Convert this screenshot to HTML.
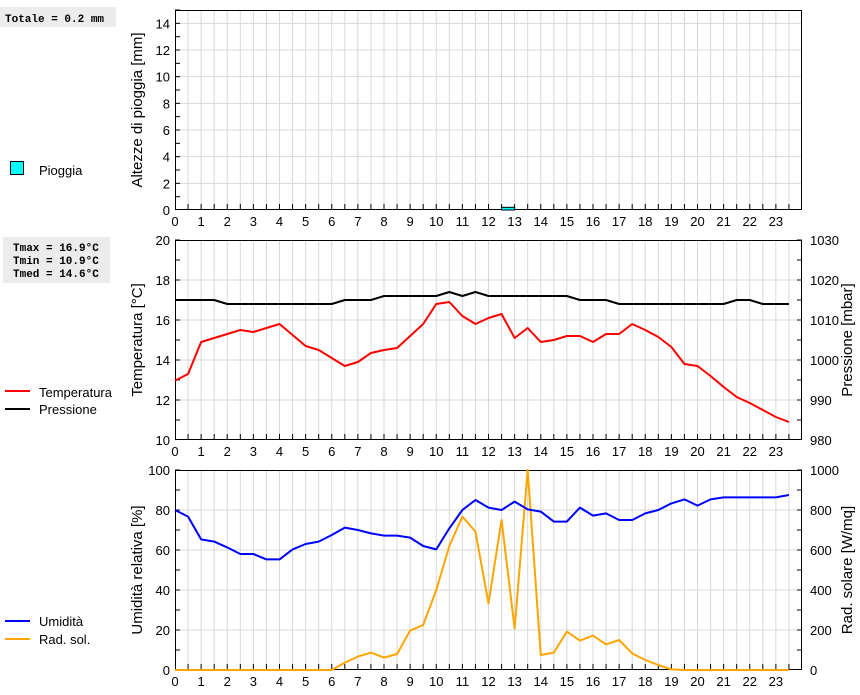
<!DOCTYPE html>
<html><head><meta charset="utf-8"><style>
body{margin:0;background:#fff;width:860px;height:690px;overflow:hidden;font-family:"Liberation Sans",sans-serif}
svg text{font-family:"Liberation Sans",sans-serif;font-size:13px;fill:#000}
.mono{font-family:"Liberation Mono",monospace;font-size:11px;font-weight:bold}
</style></head><body>
<svg id="chart" width="860" height="690" xmlns="http://www.w3.org/2000/svg">
<rect x="0" y="7" width="116" height="20" fill="#ececec"/>
<text class="mono" x="5" y="22">Totale = 0.2 mm</text>
<rect x="3" y="237" width="107" height="46" fill="#ececec"/>
<text class="mono" x="13" y="251">Tmax = 16.9°C</text>
<text class="mono" x="13" y="264">Tmin = 10.9°C</text>
<text class="mono" x="13" y="277">Tmed = 14.6°C</text>
<g><rect x="10.5" y="161.5" width="13" height="13" fill="#00ffff" stroke="#000"/><text x="39" y="175">Pioggia</text></g>
<g><line x1="5" y1="391" x2="30" y2="391" stroke="#f00" stroke-width="2"/><text x="39" y="397">Temperatura</text></g>
<g><line x1="5" y1="409" x2="30" y2="409" stroke="#000" stroke-width="2"/><text x="39" y="414">Pressione</text></g>
<g><line x1="5" y1="621" x2="30" y2="621" stroke="#00f" stroke-width="2"/><text x="39" y="626">Umidità</text></g>
<g><line x1="5" y1="639" x2="30" y2="639" stroke="#ffa500" stroke-width="2"/><text x="39" y="644">Rad. sol.</text></g>
</svg>
<script>
const hours=[0,0.5,1,1.5,2,2.5,3,3.5,4,4.5,5,5.5,6,6.5,7,7.5,8,8.5,9,9.5,10,10.5,11,11.5,12,12.5,13,13.5,14,14.5,15,15.5,16,16.5,17,17.5,18,18.5,19,19.5,20,20.5,21,21.5,22,22.5,23,23.5];
const temperature=[12.97,13.3,14.9,15.1,15.3,15.5,15.4,15.6,15.8,15.25,14.7,14.5,14.1,13.7,13.9,14.35,14.5,14.6,15.2,15.8,16.8,16.9,16.2,15.8,16.1,16.3,15.1,15.6,14.9,15.0,15.2,15.2,14.9,15.3,15.3,15.8,15.5,15.15,14.65,13.8,13.7,13.2,12.65,12.15,11.85,11.5,11.15,10.9];
const pressure=[1015,1015,1015,1015,1014,1014,1014,1014,1014,1014,1014,1014,1014,1015,1015,1015,1016,1016,1016,1016,1016,1017,1016,1017,1016,1016,1016,1016,1016,1016,1016,1015,1015,1015,1014,1014,1014,1014,1014,1014,1014,1014,1014,1015,1015,1014,1014,1014];
const humidity=[80,76.7,65.3,64.2,61.3,58,58,55.3,55.3,60.3,63,64.2,67.5,71.2,70,68.3,67.2,67.2,66.2,62,60.3,70.8,80,85,81.2,80,84.2,80.3,79.2,74.2,74.2,81.2,77.2,78.3,75,75,78.3,80,83.3,85.3,82.2,85.3,86.3,86.3,86.3,86.3,86.3,87.5];
const radiation=[0,0,0,0,0,0,0,0,0,0,0,0,0,37,67,87,62,80,197,225,400,620,767,692,333,750,208,1000,75,87,192,147,172,128,150,83,50,25,3,0,0,0,0,0,0,0,0,0];
const rainStart=[12.5];
const rainAmount=[0.2];
const xTicks=[0,1,2,3,4,5,6,7,8,9,10,11,12,13,14,15,16,17,18,19,20,21,22,23];
const rainTicks=[0,2,4,6,8,10,12,14];
const tempTicks=[10,12,14,16,18,20];
const presTicks=[980,990,1000,1010,1020,1030];
const humTicks=[0,20,40,60,80,100];
const radTicks=[0,200,400,600,800,1000];

const svg=document.getElementById('chart');
const NS='http://www.w3.org/2000/svg';
const X0=175,X1=802;
const xs=h=>X0+(h/24)*(X1-X0);
function mk(tag,attrs,parent){const e=document.createElementNS(NS,tag);for(const k in attrs)e.setAttribute(k,attrs[k]);(parent||svg).appendChild(e);return e;}
function panel(name,top,bot,minL,maxL,stepMinor,ticksL,titleL,right){
  const g=mk('g',{});
  
  
  const ys=v=>bot-(v-minL)/(maxL-minL)*(bot-top);
  for(let h=0.5;h<24;h+=0.5){const l=mk('line',{x1:xs(h),x2:xs(h),y1:top,y2:bot,stroke:'#d8d8d8'},g);}
  ticksL.forEach(v=>{if(v<=minL||v>=maxL)return;const y=ys(v);const l=mk('line',{x1:X0,x2:X1,y1:y,y2:y,stroke:'#d8d8d8'},g);});
  for(let v=minL+stepMinor;v<maxL+1e-9;v+=stepMinor){const y=ys(v);
    mk('line',{x1:X0,x2:X0+5,y1:y,y2:y,stroke:'#000'},g);
    if(right) mk('line',{x1:X1-5,x2:X1,y1:y,y2:y,stroke:'#000'},g);}
  for(let h=0.5;h<24;h+=0.5) mk('line',{x1:xs(h),x2:xs(h),y1:bot-6,y2:bot,stroke:'#000'},g);
  const fr=mk('rect',{x:X0+0.5,y:top+0.5,width:X1-X0-1,height:bot-top-1,fill:'none',stroke:'#000'},g);
  
  ticksL.forEach(v=>{const t=mk('text',{x:X0-5,y:ys(v)+5,'text-anchor':'end'},g);t.textContent=v;});
  xTicks.forEach(h=>{const t=mk('text',{x:xs(h),y:bot+16,'text-anchor':'middle'},g);t.textContent=h;});
  const tt=mk('text',{x:0,y:0,transform:`translate(142,${(top+bot)/2}) rotate(-90)`,'text-anchor':'middle'},g);
  tt.style.fontSize='15px';tt.textContent=titleL;
  if(right){
    const rs=v=>bot-(v-right.min)/(right.max-right.min)*(bot-top);
    right.ticks.forEach(v=>{const t=mk('text',{x:X1+8,y:rs(v)+5},g);t.textContent=v;});
    const rt=mk('text',{x:0,y:0,transform:`translate(852,${(top+bot)/2}) rotate(-90)`,'text-anchor':'middle'},g);
    rt.style.fontSize='15px';rt.textContent=right.title;
    return [ys,rs,g];
  }
  return [ys,null,g];
}
function line(vals,scale,color,name,g){
  const pts=hours.map((h,i)=>xs(h)+','+scale(vals[i])).join(' ');
  const p=mk('polyline',{points:pts,fill:'none',stroke:color,'stroke-width':2,'stroke-linejoin':'round'},g);
  
  
}
let [ry,,rg]=panel('rain',10,210,0,15,1,rainTicks,'Altezze di pioggia [mm]',null);
rainStart.forEach((s,i)=>{const y=ry(rainAmount[i]);const b=mk('rect',{x:xs(s),y:y,width:xs(s+0.5)-xs(s),height:210-y,fill:'#00ffff',stroke:'#000'},rg);
  });
let [ty,py,tg]=panel('temperature',240,440,10,20,1,tempTicks,'Temperatura [°C]',{min:980,max:1030,ticks:presTicks,title:'Pressione [mbar]'});
line(pressure,py,'#000','pressure-line',tg);
line(temperature,ty,'#f00','temperature-line',tg);
let [hy,sy,hg]=panel('humidity',470,670,0,100,10,humTicks,'Umidità relativa [%]',{min:0,max:1000,ticks:radTicks,title:'Rad. solare [W/mq]'});
line(radiation,sy,'#ffa500','radiation-line',hg);
line(humidity,hy,'#00f','humidity-line',hg);
</script>
</body></html>
